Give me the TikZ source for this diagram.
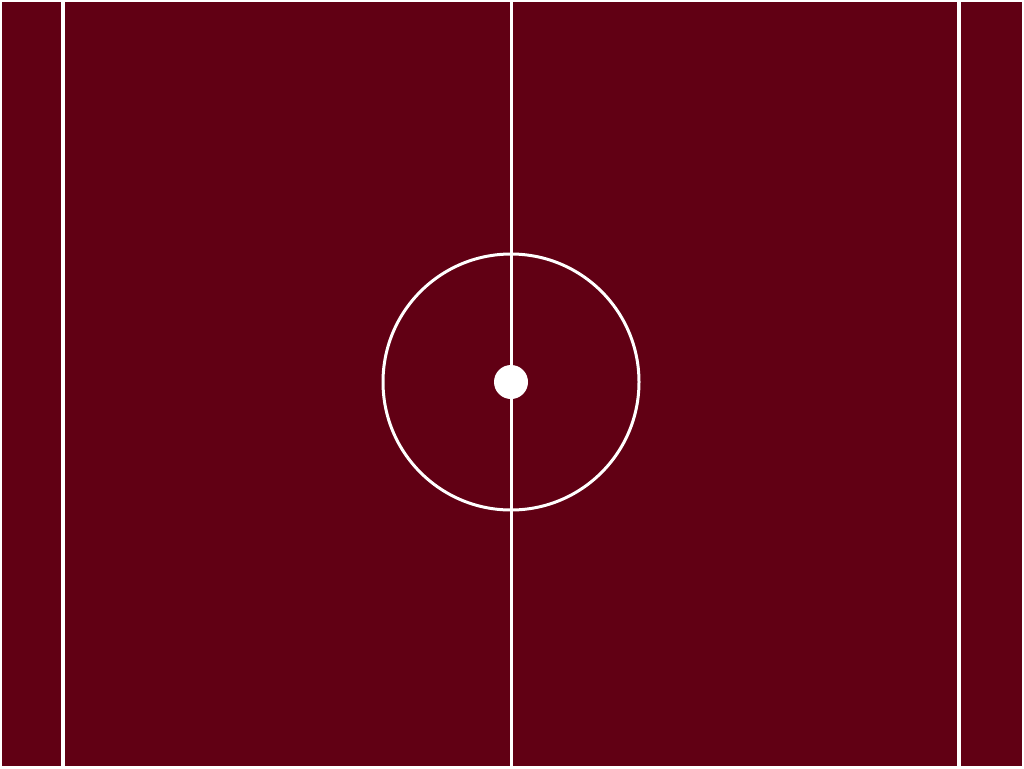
\documentclass[tikz,border=0pt]{standalone}
\usepackage{tikz}
\usetikzlibrary{calc}
\usepackage{xcolor}
\definecolor{pitch}{RGB}{97,0,20}
\definecolor{chalk}{RGB}{255,255,255}

\begin{document}
\begin{tikzpicture}[x=0.02cm, y=-0.02cm]
  % background and border
  \fill[chalk] (0,0) rectangle (1024,768);
  \fill[pitch] (2,2) rectangle (1022,766);
  % side lines
  \draw[chalk, line width=0.08cm] (63,2) -- (63,766);
  \draw[chalk, line width=0.08cm] (959,2) -- (959,766);
  % halfway line
  \draw[chalk, line width=0.06cm] (511,2) -- (511,766);
  % centre circle and spot
  \coordinate (centre) at (511,382);
  \draw[chalk, line width=0.06cm] (centre) circle (128);
  \fill[chalk] (centre) circle (17);
\end{tikzpicture}
\end{document}
